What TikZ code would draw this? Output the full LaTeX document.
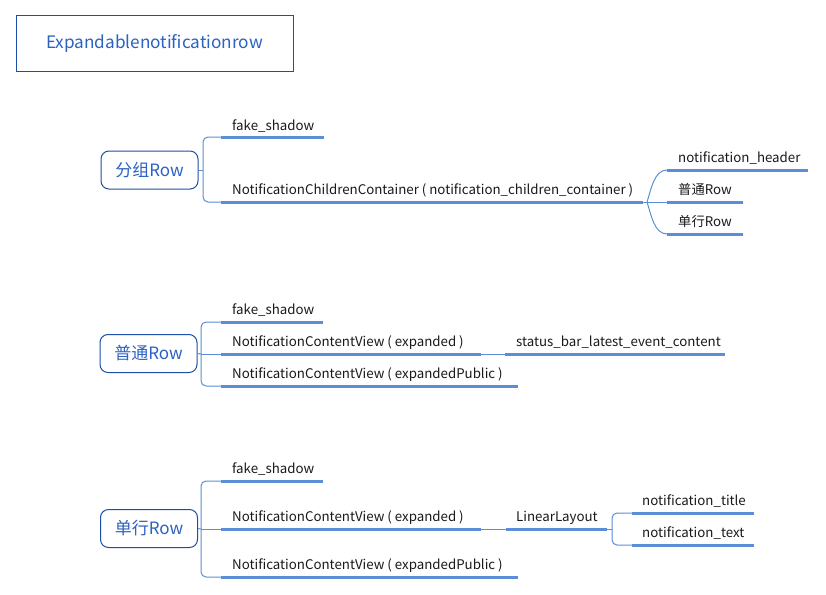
\documentclass[tikz,border=0pt]{standalone}
\usepackage{fontspec}
\setmainfont{Noto Sans CJK SC}
\definecolor{dkblue}{HTML}{1E4FA6}
\definecolor{txtblue}{HTML}{2C62C2}
\definecolor{lnblue}{HTML}{5B8ED6}
\definecolor{leaftxt}{HTML}{1A1A1A}
\begin{document}
\begin{tikzpicture}[x=1pt,y=-1pt,
  rowbox/.style={draw=dkblue, line width=1pt, rounded corners=8pt, minimum width=97pt, minimum height=38pt, text=txtblue, font=\fontsize{17}{20}\selectfont, inner sep=0pt},
  titlebox/.style={draw=dkblue, line width=1pt, minimum width=277pt, minimum height=55pt, text=txtblue, font=\fontsize{17.2}{20}\selectfont, inner sep=0pt},
  leaf/.style={anchor=base west, inner sep=0pt, font=\fontsize{13.3}{15}\selectfont, text=leaftxt},
  uline/.style={draw=lnblue, line width=3pt},
  conn/.style={draw=lnblue, line width=1pt, rounded corners=5pt},
  curv/.style={draw=lnblue, line width=1pt}]
\fill[white] (0,0) rectangle (826,594);
\useasboundingbox (0,0) rectangle (826,594);

% title
\node[titlebox] (title) at (154.5,43.5) {Expandablenotificationrow};

% ---------- section 1 ----------
\node[rowbox] (g) at (149.5,170) {分组Row};
\coordinate (gb) at (203,170);
\coordinate (g1s) at (221,137); \coordinate (g1e) at (324,137);
\coordinate (g2s) at (221,202); \coordinate (g2e) at (643,202);
\node[leaf] (g1) at (232,130) {fake\_shadow};
\node[leaf] (g2) at (232,194) {NotificationChildrenContainer ( notification\_children\_container )};
\draw[conn] (g.east) -- (gb);
\draw[conn] (g1s) -- (203,137) -- (203,202) -- (g2s);
\draw[uline] (g1s) -- (g1e);
\draw[uline] (g2s) -- (g2e);
\coordinate (gj) at (647,202);
\coordinate (g3s) at (667,170); \coordinate (g3e) at (808,170);
\coordinate (g4s) at (667,202); \coordinate (g4e) at (743,202);
\coordinate (g5s) at (667,234); \coordinate (g5e) at (743,234);
\draw[curv] (g2e) -- (gj);
\draw[curv] (gj) .. controls (651,190) and (654,170) .. (g3s);
\draw[curv] (gj) -- (g4s);
\draw[curv] (gj) .. controls (651,214) and (654,234) .. (g5s);
\draw[uline] (g3s) -- (g3e);
\draw[uline] (g4s) -- (g4e);
\draw[uline] (g5s) -- (g5e);
\node[leaf] (g3) at (678,162) {notification\_header};
\node[leaf] (g4) at (678,194) {普通Row};
\node[leaf] (g5) at (678,226) {单行Row};

% ---------- section 2 ----------
\node[rowbox] (n) at (148.5,353.5) {普通Row};
\coordinate (nb) at (201,354);
\coordinate (n1s) at (221,322); \coordinate (n1e) at (323,322);
\coordinate (n2s) at (221,354); \coordinate (n2e) at (481,354);
\coordinate (n3s) at (221,386); \coordinate (n3e) at (518,386);
\coordinate (n4s) at (505,354); \coordinate (n4e) at (725,354);
\draw[conn] (n.east) -- (nb);
\draw[conn] (n1s) -- (201,322) -- (201,386) -- (n3s);
\draw[conn] (nb) -- (n2s);
\draw[conn] (n2e) -- (n4s);
\draw[uline] (n1s) -- (n1e);
\draw[uline] (n2s) -- (n2e);
\draw[uline] (n3s) -- (n3e);
\draw[uline] (n4s) -- (n4e);
\node[leaf] (n1) at (232,314) {fake\_shadow};
\node[leaf] (n2) at (232,346) {NotificationContentView ( expanded )};
\node[leaf] (n3) at (232,378) {NotificationContentView ( expandedPublic )};
\node[leaf] (n4) at (516,346) {status\_bar\_latest\_event\_content};

% ---------- section 3 ----------
\node[rowbox] (s) at (149,528.5) {单行Row};
\coordinate (sb) at (201,529);
\coordinate (s1s) at (221,481); \coordinate (s1e) at (323,481);
\coordinate (s2s) at (221,529); \coordinate (s2e) at (481,529);
\coordinate (s3s) at (221,577); \coordinate (s3e) at (518,577);
\coordinate (s4s) at (506,529); \coordinate (s4e) at (607,529);
\coordinate (sj) at (612,529);
\coordinate (s5s) at (632,513); \coordinate (s5e) at (754,513);
\coordinate (s6s) at (632,545); \coordinate (s6e) at (754,545);
\draw[conn] (s.east) -- (sb);
\draw[conn] (s1s) -- (201,481) -- (201,577) -- (s3s);
\draw[conn] (sb) -- (s2s);
\draw[conn] (s2e) -- (s4s);
\draw[conn] (s4e) -- (sj);
\draw[conn] (s5s) -- (612,513) -- (612,545) -- (s6s);
\draw[uline] (s1s) -- (s1e);
\draw[uline] (s2s) -- (s2e);
\draw[uline] (s3s) -- (s3e);
\draw[uline] (s4s) -- (s4e);
\draw[uline] (s5s) -- (s5e);
\draw[uline] (s6s) -- (s6e);
\node[leaf] (s1) at (232,473) {fake\_shadow};
\node[leaf] (s2) at (232,521) {NotificationContentView ( expanded )};
\node[leaf] (s3) at (232,569) {NotificationContentView ( expandedPublic )};
\node[leaf] (s4) at (516,521) {LinearLayout};
\node[leaf] (s5) at (642,505) {notification\_title};
\node[leaf] (s6) at (642,537) {notification\_text};
\end{tikzpicture}
\end{document}
